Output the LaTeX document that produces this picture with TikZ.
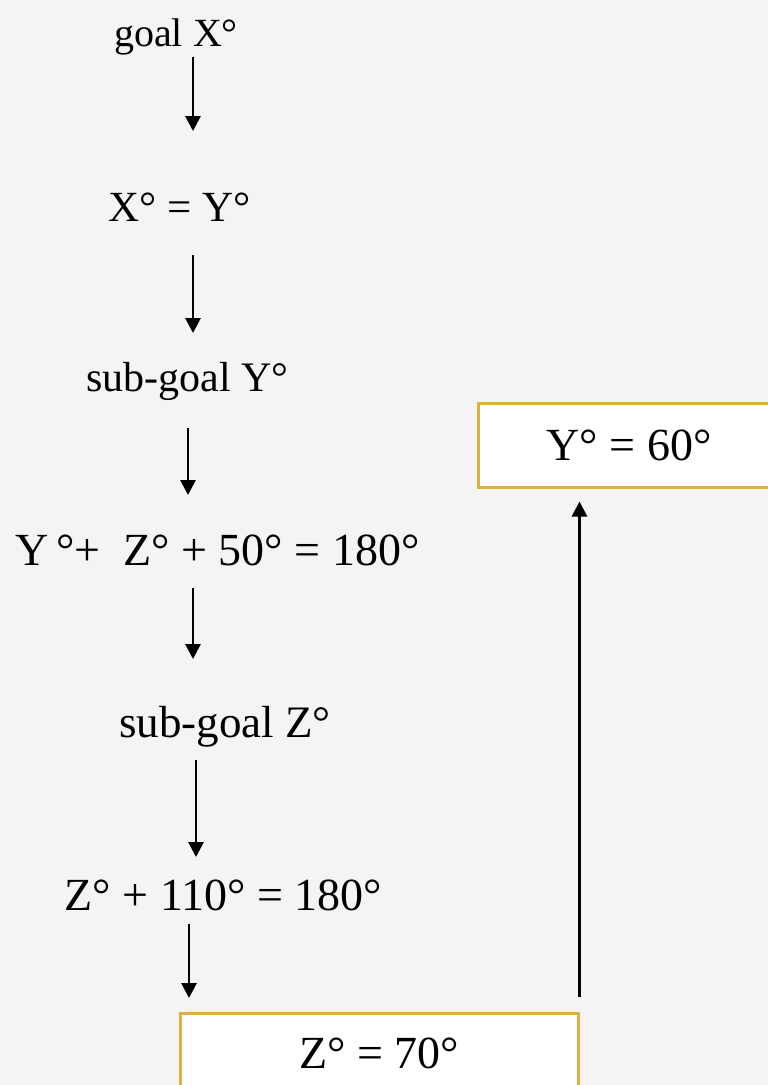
\documentclass[tikz,border=0pt]{standalone}
\usepackage{fontspec}
\setmainfont{Liberation Serif}
\usetikzlibrary{arrows.meta}
\definecolor{bg}{HTML}{F4F4F4}
\definecolor{gold}{HTML}{DFB03F}
\tikzset{
  lbl/.style={anchor=base, inner sep=0pt, font=\fontsize{#1}{#1}\selectfont},
  arr/.style={line width=2.8pt, -{Triangle[width=15pt,length=15pt]}},
  goldbox/.style={draw=gold, line width=3pt, fill=white, inner sep=0pt, font=\fontsize{46}{46}\selectfont}
}
\begin{document}
\begin{tikzpicture}[x=1pt,y=-1pt]
\useasboundingbox (0,0) rectangle (768,1085);
\clip (0,0) rectangle (768,1085);
\fill[bg] (0,0) rectangle (768,1085);
% text nodes
\node[lbl=40] (t1) at (176,46.5) {goal X°};
\node[lbl=43] (t2) at (180,221.5) {X° = Y°};
\node[lbl=42] (t3) at (187.5,391.5) {sub-goal Y°};
\node[lbl=46] (t4) at (217.5,565) {Y\,°+\ \ Z° + 50° = 180°};
\node[lbl=45] (t5) at (225,737) {sub-goal Z°};
\node[lbl=46] (t6) at (223.5,910) {Z° + 110° = 180°};
% boxes
\node[goldbox, minimum width=398pt, minimum height=80pt] (zb) at (379,1053) {Z° = 70°};
\node[goldbox, minimum width=302pt, minimum height=84pt] (yb) at (629,445) {Y° = 60°};
% arrow end points
\coordinate (a1s) at (193,57);  \coordinate (a1e) at (193,131);
\coordinate (a2s) at (193,255); \coordinate (a2e) at (193,333);
\coordinate (a3s) at (188,428); \coordinate (a3e) at (188,495);
\coordinate (a4s) at (193,588); \coordinate (a4e) at (193,659);
\coordinate (a5s) at (196,760); \coordinate (a5e) at (196,857);
\coordinate (a6s) at (189,924); \coordinate (a6e) at (189,998);
\draw[arr] (a1s) -- (a1e);
\draw[arr] (a2s) -- (a2e);
\draw[arr] (a3s) -- (a3e);
\draw[arr] (a4s) -- (a4e);
\draw[arr] (a5s) -- (a5e);
\draw[arr] (a6s) -- (a6e);
\draw[arr] ([yshift=15pt]zb.north east) -- ([yshift=-13pt]zb.north east |- yb.south);
\end{tikzpicture}
\end{document}
